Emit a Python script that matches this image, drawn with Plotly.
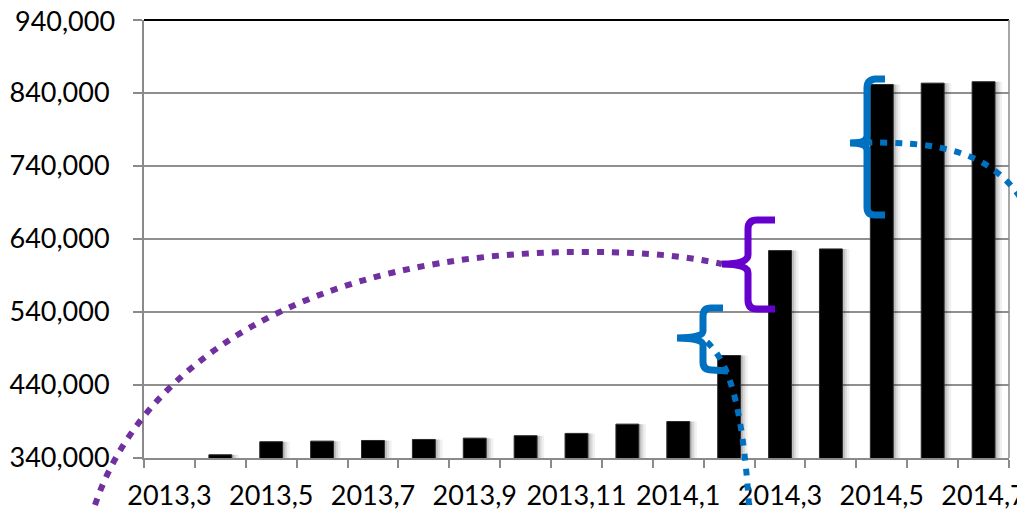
import plotly.graph_objects as go

categories = ["2013,3", "2013,4", "2013,5", "2013,6", "2013,7", "2013,8", "2013,9",
              "2013,10", "2013,11", "2013,12", "2014,1", "2014,2", "2014,3",
              "2014,4", "2014,5", "2014,6", "2014,7"]
values = [None, 344400, 362300, 363100, 364000, 365400, 367200, 370500, 373700,
          386400, 390000, 480400, 624100, 626400, 851700, 853500, 855400]
shown_labels = ["2013,3", "2013,5", "2013,7", "2013,9", "2013,11",
                "2014,1", "2014,3", "2014,5", "2014,7"]
y_ticks = [340000, 440000, 540000, 640000, 740000, 840000, 940000]

tick_text = [c if c in shown_labels else "" for c in categories]
y_text = [f"{v:,}" for v in y_ticks]

FONT = "Lato"
PAGE_OFF = 8  # page body margin offset of the figure
W, H = 1025 - PAGE_OFF, 510 - PAGE_OFF
# plot area in page pixels (for decorative annotation shapes)
X0, X1, Y0, Y1 = 144, 1009, 20, 458
Y_LABEL_GAP = 9 + 18


def to_paper(path):
    out = []
    toks = path.split()
    nums = []
    for t in toks:
        if t.isalpha():
            out.append(t)
        else:
            nums.append(float(t))
            if len(nums) == 2:
                x, y = nums
                out.append(f"{(x - X0) / (X1 - X0):.5f},{(Y1 - y) / (Y1 - Y0):.5f}")
                nums = []
    return " ".join(out)


fig = go.Figure()

BW = 0.45
for shift, alpha in [(0.14, 0.06), (0.09, 0.09), (0.05, 0.12)]:
    fig.add_trace(go.Bar(
        x=categories, y=values, width=BW, offset=-BW / 2 + shift,
        marker=dict(color=f"rgba(0,0,0,{alpha})", line=dict(width=0)),
        hoverinfo="skip", showlegend=False))

fig.add_trace(go.Bar(
    x=categories, y=values, width=BW, offset=-BW / 2,
    marker=dict(color="#000000", line=dict(color="#2a2a2a", width=1)),
    showlegend=False))

PURPLE_DOT = "#7030A0"
PURPLE_BRACE = "#6600CC"
BLUE = "#0070C0"

shapes = [
    # frame lines
    dict(type="line", xref="paper", yref="paper", x0=0, x1=1, y0=1, y1=1,
         line=dict(color="#000000", width=2)),
    dict(type="line", xref="paper", yref="paper", x0=1, x1=1, y0=0, y1=1,
         line=dict(color="#8a8a8a", width=1.5)),
    # purple dotted arc
    dict(type="path", xref="paper", yref="paper",
         path=to_paper("M 95 505 C 140 370 300 250 590 252 C 650 252 690 257 722 264"),
         line=dict(color=PURPLE_DOT, width=6, dash="7px,8px")),
    # purple brace
    dict(type="path", xref="paper", yref="paper",
         path=to_paper("M 775 220 L 757 220 Q 748 220 748 229 L 748 255 Q 748 264 722 264 "
                       "M 722 264 Q 748 264 748 273 L 748 300 Q 748 309 757 309 L 775 309"),
         line=dict(color=PURPLE_BRACE, width=7)),
    # small blue brace
    dict(type="path", xref="paper", yref="paper",
         path=to_paper("M 723 308 L 711 308 Q 703 308 703 316 L 703 331 Q 703 338 677 338 "
                       "M 677 338 Q 703 338 703 345 L 703 362 Q 703 370 712 370 L 728 371"),
         line=dict(color=BLUE, width=7)),
    # small blue dotted
    dict(type="path", xref="paper", yref="paper",
         path=to_paper("M 707 342 C 728 362 742 400 749 505"),
         line=dict(color=BLUE, width=6, dash="7px,8px")),
    # large blue brace
    dict(type="path", xref="paper", yref="paper",
         path=to_paper("M 885 79 L 875 79 Q 867 80 867 88 L 867 136 Q 867 143 850 143 "
                       "M 850 143 Q 867 143 867 150 L 867 207 Q 867 215 875 215 L 885 215"),
         line=dict(color=BLUE, width=7)),
    # large blue dotted
    dict(type="path", xref="paper", yref="paper",
         path=to_paper("M 850 143 C 940 140 1000 150 1032 218"),
         line=dict(color=BLUE, width=6, dash="7px,8px")),
]

# the top tick label sits at the very edge of the figure; draw it as an annotation
annotations = [dict(xref="paper", yref="y", x=0, y=y_ticks[-1], text=y_text[-1],
                    showarrow=False, xanchor="right", yanchor="middle",
                    xshift=-Y_LABEL_GAP, font=dict(family=FONT, size=27, color="#000000"))]

fig.update_layout(
    width=W, height=H,
    margin=dict(l=X0 - PAGE_OFF, r=1025 - X1, t=Y0 - PAGE_OFF, b=510 - Y1,
                pad=0, autoexpand=False),
    paper_bgcolor="white", plot_bgcolor="white",
    barmode="overlay",
    font=dict(family=FONT, size=27, color="#000000"),
    shapes=shapes,
    annotations=annotations,
    xaxis=dict(
        type="category", range=[-0.5, len(categories) - 0.5],
        tickmode="array", tickvals=categories, ticktext=tick_text,
        tickson="boundaries", ticks="outside", ticklen=8, tickwidth=1.5,
        tickcolor="#8a8a8a", showline=True, linecolor="#8a8a8a", linewidth=2,
        showgrid=False, ticklabelstandoff=13, tickangle=0, automargin=False,
        tickfont=dict(family=FONT, size=27, color="#000000")),
    yaxis=dict(
        range=[340000, 940000], tickmode="array", tickvals=y_ticks,
        ticktext=y_text[:-1] + [""], ticks="outside", ticklen=9, tickwidth=1.5,
        tickcolor="#8a8a8a", showline=True, linecolor="#8a8a8a", linewidth=2,
        showgrid=True, gridcolor="#8f8f8f", gridwidth=1.5, zeroline=False,
        ticklabelstandoff=18, automargin=False,
        tickfont=dict(family=FONT, size=27, color="#000000")),
)

fig.write_html("out.html")
